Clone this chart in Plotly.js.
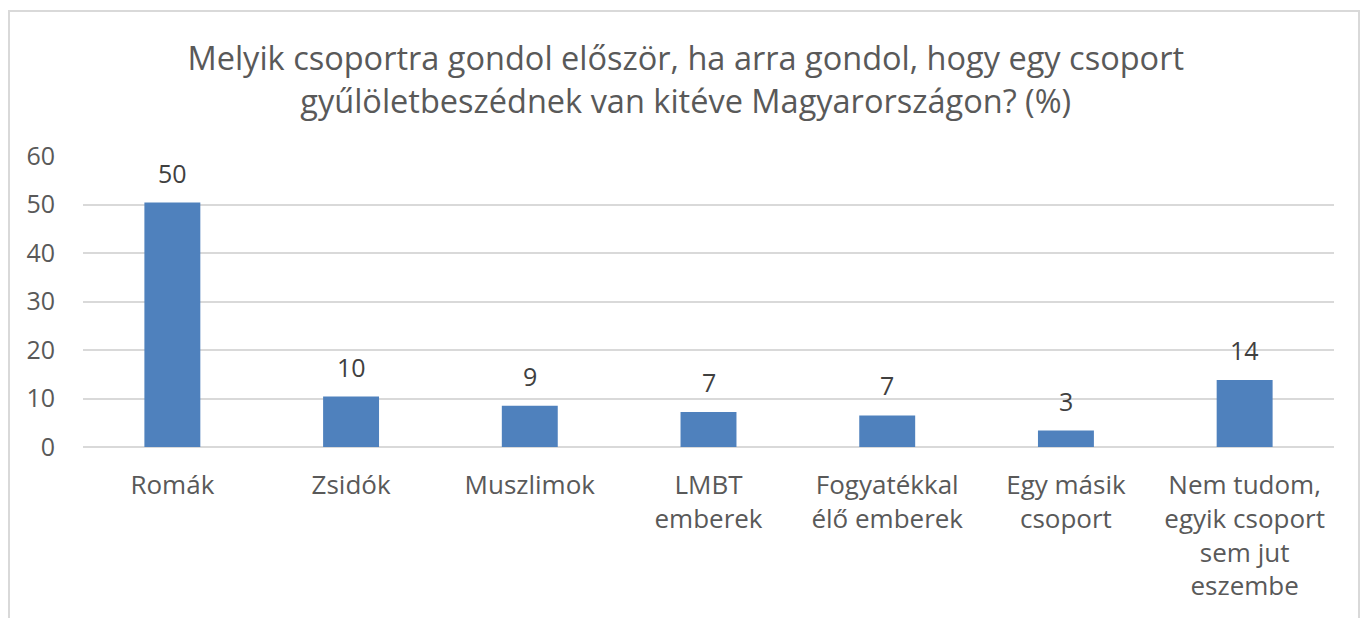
<!DOCTYPE html>
<html>
<head>
<meta charset="utf-8">
<script src="https://cdn.plot.ly/plotly-3.0.1.min.js"></script>
<style>
  html, body { margin: 0; padding: 0; background: #ffffff; overflow: hidden; }
  #frame { position: absolute; left: 8px; top: 10px; width: 1352px; height: 640px; border: 2px solid #d9d9d9; box-sizing: border-box; }
  #chart { position: absolute; left: 0; top: 0; width: 1366px; height: 618px; }
</style>
</head>
<body>
<div id="frame"></div>
<div id="chart"></div>
<script>
const categories = [
  "Romák",
  "Zsidók",
  "Muszlimok",
  "LMBT<br>emberek",
  "Fogyatékkal<br>élő emberek",
  "Egy másik<br>csoport",
  "Nem tudom,<br>egyik csoport<br>sem jut<br>eszembe"
];
const values = [50.4, 10.4, 8.5, 7.2, 6.5, 3.4, 13.8];
const valueLabels = ["50", "10", "9", "7", "7", "3", "14"];
const yTicks = [0, 10, 20, 30, 40, 50, 60];
const titleText = "Melyik csoportra gondol először, ha arra gondol, hogy egy csoport<br>gyűlöletbeszédnek van kitéve Magyarországon? (%)";

const FONT = "Open Sans, sans-serif";
const TEXT = "#595959";

const trace = {
  type: "bar",
  x: categories,
  y: values,
  marker: { color: "#4f81bd" },
  hoverinfo: "x+y"
};

const annotations = categories.map((c, i) => ({
  x: c, y: values[i], xref: "x", yref: "y",
  text: valueLabels[i], showarrow: false,
  yanchor: "bottom", yshift: 11,
  font: { family: FONT, size: 25, color: "#404040" }
}));

const layout = {
  width: 1366, height: 618,
  margin: { l: 83, r: 32, t: 156, b: 171 },
  paper_bgcolor: "rgba(0,0,0,0)",
  plot_bgcolor: "rgba(0,0,0,0)",
  title: {
    text: titleText,
    font: { family: FONT, size: 32.5, color: TEXT },
    x: 0.502, xanchor: "center", xref: "container",
    y: 0.886, yanchor: "middle", yref: "container"
  },
  bargap: 0.687,
  showlegend: false,
  font: { family: FONT, color: TEXT },
  xaxis: {
    type: "category",
    showgrid: false, zeroline: false, showline: false,
    ticks: "", ticklabelstandoff: 20,
    tickfont: { family: FONT, size: 26, color: TEXT }
  },
  yaxis: {
    range: [0, 60], tickvals: yTicks, ticktext: yTicks.map(String),
    showgrid: true, gridcolor: "#d9d9d9", gridwidth: 2,
    zeroline: true, zerolinecolor: "#d9d9d9", zerolinewidth: 2,
    showline: false, ticks: "", ticklabelstandoff: 27,
    tickfont: { family: FONT, size: 25, color: TEXT }
  },
  annotations: annotations
};

Plotly.newPlot("chart", [trace], layout, { displayModeBar: false, responsive: false });
</script>
</body>
</html>
